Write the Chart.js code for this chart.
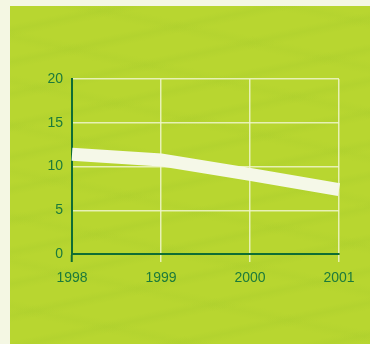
<!DOCTYPE html>
<html>
<head>
<meta charset="utf-8">
<script src="https://cdn.jsdelivr.net/npm/chart.js@4"></script>
<style>
  html, body { margin: 0; padding: 0; background: #f4f7e3; }
  #wrap {
    position: absolute; left: 0; top: 0; width: 370px; height: 344px;
  }
  #bg {
    position: absolute; left: 10px; top: 6px; width: 360px; height: 338px;
    background-color: #b8d630;
    background-image:
      repeating-linear-gradient(168deg, rgba(160,200,40,0) 0px, rgba(160,200,40,0) 18px, rgba(168,204,44,0.3) 24px, rgba(160,200,40,0) 31px),
      repeating-linear-gradient(12deg, rgba(160,200,40,0) 0px, rgba(160,200,40,0) 30px, rgba(168,204,44,0.2) 37px, rgba(160,200,40,0) 44px);
  }
  canvas { position: absolute; left: 0; top: 0; }
</style>
</head>
<body>
<div id="wrap">
  <div id="bg"></div>
  <canvas id="linechart" width="370" height="344"></canvas>
</div>
<script>
var years = ["1998", "1999", "2000", "2001"];
var values = [11.4, 10.75, 9.1, 7.35];
var yTicks = [0, 5, 10, 15, 20];

var darkGreen = "#0f6d34";
var labelGreen = "#1c7a3b";
var cream = "#f5f8e8";
var gridCream = "rgba(240,246,205,0.85)";

function drawLineChart() {
  var ctx = document.getElementById("linechart").getContext("2d");
  new Chart(ctx, {
    type: "line",
    data: {
      labels: years,
      datasets: [
        {
          label: "History",
          data: values,
          borderColor: cream,
          backgroundColor: cream,
          borderWidth: 13,
          borderCapStyle: "butt",
          borderJoinStyle: "miter",
          pointRadius: 0,
          tension: 0,
          fill: false
        }
      ]
    },
    options: {
      responsive: false,
      animation: false,
      events: [],
      layout: { padding: { left: 22, right: 31, top: 79, bottom: 40 } },
      plugins: { legend: { display: false }, tooltip: { enabled: false } },
      scales: {
        x: {
          type: "category",
          offset: false,
          afterFit: function(scale) { scale.height = 50; },
          border: { display: true, color: darkGreen, width: 2 },
          grid: {
            color: gridCream,
            lineWidth: 1.5,
            drawTicks: true,
            tickLength: 8,
            tickColor: function(c) { return c.index === 0 ? darkGreen : gridCream; },
            tickWidth: function(c) { return c.index === 0 ? 2 : 1.5; }
          },
          ticks: {
            color: labelGreen,
            padding: 8,
            maxRotation: 0,
            font: { family: "Liberation Sans", size: 14 }
          }
        },
        y: {
          min: 0,
          max: 20,
          afterFit: function(scale) { scale.width = 50; },
          afterBuildTicks: function(scale) {
            scale.ticks = yTicks.map(function(v) { return { value: v }; });
          },
          border: { display: true, color: darkGreen, width: 2 },
          grid: {
            color: gridCream,
            lineWidth: 1.5,
            drawTicks: false
          },
          ticks: {
            color: labelGreen,
            padding: 9,
            font: { family: "Liberation Sans", size: 14 }
          }
        }
      }
    }
  });
}

drawLineChart();
</script>
</body>
</html>
